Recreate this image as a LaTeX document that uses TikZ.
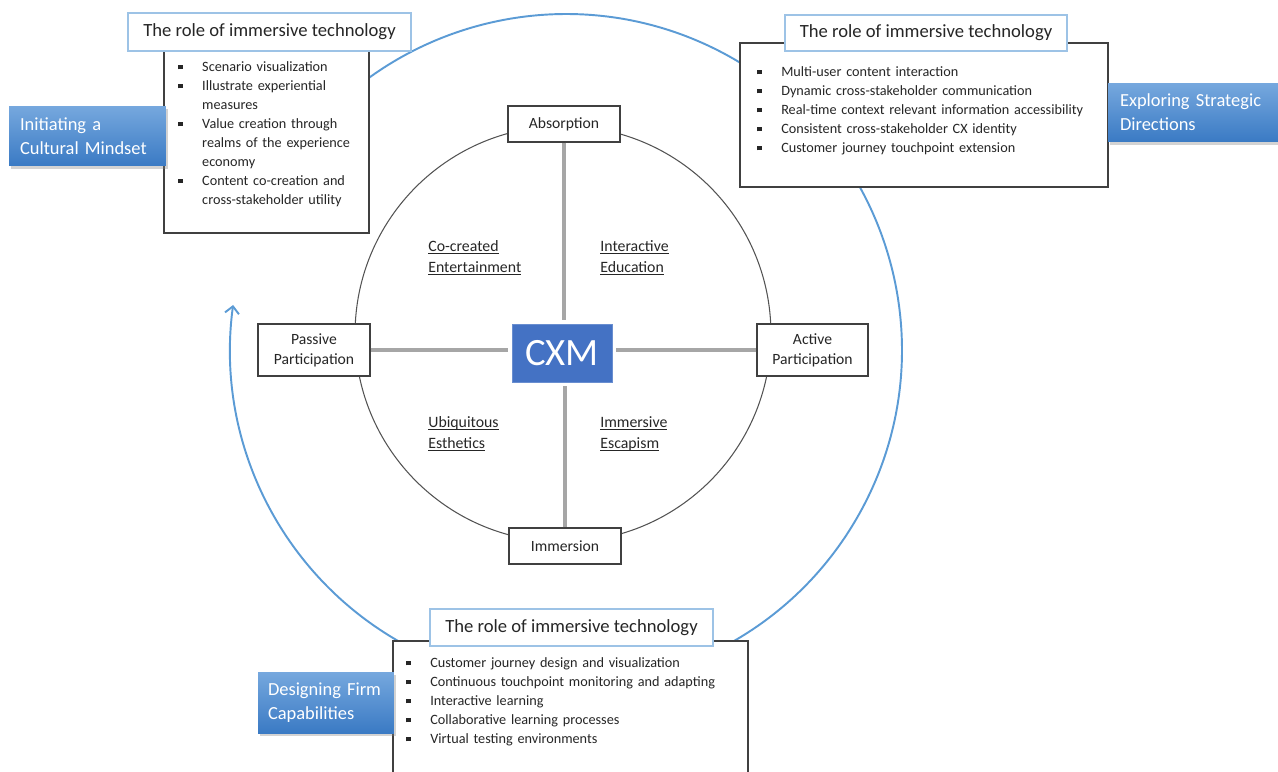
\documentclass[tikz,border=0pt]{standalone}
\usepackage{fontspec}
\setmainfont{Carlito}
\usetikzlibrary{shapes, positioning, shadows, arrows.meta}

\definecolor{cyclebl}{RGB}{91,155,213}
\definecolor{headbl}{RGB}{157,195,230}
\definecolor{cxmbl}{RGB}{68,114,196}
\definecolor{phasetop}{RGB}{118,168,222}
\definecolor{phasebot}{RGB}{58,122,196}
\definecolor{axisgray}{RGB}{166,166,166}
\definecolor{boxgray}{RGB}{64,64,64}
\definecolor{inkgray}{RGB}{38,38,38}

\newsavebox{\ulbox}
\newcommand{\realmline}[1]{\sbox{\ulbox}{#1}\rlap{\rule[-1.8pt]{\wd\ulbox}{0.5pt}}\usebox{\ulbox}}
\newcommand{\bitem}[1]{\noindent\hangindent=13.6pt\hangafter=1\makebox[13.6pt][l]{\rule[1.2pt]{2.4pt}{2.4pt}}#1\par}

\tikzset{
    cycle/.style={draw=cyclebl, line width=1.1pt, -{Straight Barb[length=4pt, width=8pt]}},
    rim/.style={draw=boxgray!90, line width=0.6pt},
    realm/.style={draw=boxgray, line width=0.8pt, fill=white, align=center, inner sep=0pt,
        text=inkgray, font=\fontsize{8.9}{11.3}\selectfont},
    axis/.style={draw=axisgray, line width=1.8pt},
    cxmbox/.style={fill=cxmbl, draw=cxmbl!80!white, line width=0.5pt, text=white, inner sep=0pt,
        minimum width=2cm, minimum height=1.16cm, font=\fontsize{22}{26}\selectfont},
    quad/.style={anchor=base west, align=left, inner sep=0pt, text=inkgray,
        font=\fontsize{9}{11.9}\selectfont},
    rolehead/.style={draw=headbl, line width=0.9pt, fill=white, inner sep=0pt, text=inkgray,
        font=\fontsize{10.6}{13}\selectfont},
    rolebody/.style={draw=boxgray, line width=0.8pt, fill=white, inner sep=0pt},
    items/.style={anchor=base west, inner sep=0pt, align=left, text=inkgray,
        font=\fontsize{8.1}{10.8}\selectfont},
    phase/.style={top color=phasetop, bottom color=phasebot, draw=none, text=white, align=left,
        inner ysep=0pt, font=\fontsize{10.5}{13.6}\selectfont,
        drop shadow={shadow xshift=1.2pt, shadow yshift=-1.5pt, opacity=0.35}}
}

\begin{document}
\begin{tikzpicture}[x=0.02cm, y=-0.02cm]
    \useasboundingbox (0,0) rectangle (1278,771);

    % Centres
    \coordinate (hub) at (566,350);
    \coordinate (core) at (563,334);

    % Outer cycle and inner circle
    \draw[cycle] (hub) ++(150:6.72cm) arc[start angle=150, end angle=-187.7, radius=6.72cm];
    \draw[rim] (core) circle[radius=4.16cm];

    % Realm boxes
    \node[realm, minimum width=2.24cm, minimum height=0.72cm] (absorption) at (564,124) {Absorption};
    \node[realm, minimum width=2.24cm, minimum height=0.72cm] (immersion) at (565,546) {Immersion};
    \node[realm, minimum width=2.24cm, minimum height=1.04cm] (passive) at (314,350) {Passive\\Participation};
    \node[realm, minimum width=2.22cm, minimum height=1.04cm] (active) at (812.5,350) {Active\\Participation};
    \node[cxmbox] (cxm) at (562,353) {CXM};

    % Axes
    \draw[axis, shorten >=2pt] (absorption.south) -- (absorption.south |- cxm.north);
    \draw[axis, shorten >=2pt] (immersion.north) -- (immersion.north |- cxm.south);
    \draw[axis, shorten >=2pt] (passive.east) -- (passive.east -| cxm.west);
    \draw[axis, shorten >=2pt] (active.west) -- (active.west -| cxm.east);

    % Quadrants
    \node[quad] (cocreated) at (428,272) {\realmline{Co-created}\\\realmline{Entertainment}};
    \node[quad] (interactive) at (600,272) {\realmline{Interactive}\\\realmline{Education}};
    \node[quad] (ubiquitous) at (428,448) {\realmline{Ubiquitous}\\\realmline{Esthetics}};
    \node[quad] (escapism) at (600,448) {\realmline{Immersive}\\\realmline{Escapism}};

    % Role boxes
    \node[rolebody, minimum width=4.1cm, minimum height=3.76cm] (tlbody) at (266.5,139) {};
    \node[rolehead, minimum width=5.66cm, minimum height=0.76cm] (tlhead) at (269.5,32) {The role of immersive technology};
    \node[items, text width=3.9cm] (tllist) at (178,71.5) {%
        \bitem{Scenario visualization}%
        \bitem{Illustrate experiential\newline measures}%
        \bitem{Value creation through\newline realms of the experience\newline economy}%
        \bitem{Content co-creation and\newline cross-stakeholder utility}};

    \node[rolebody, minimum width=7.36cm, minimum height=2.88cm] (trbody) at (924,115) {};
    \node[rolehead, minimum width=5.64cm, minimum height=0.72cm] (trhead) at (926,33) {The role of immersive technology};
    \node[items, text width=7cm] (trlist) at (757,76.5) {%
        \bitem{Multi-user content interaction}%
        \bitem{Dynamic cross-stakeholder communication}%
        \bitem{Real-time context relevant information accessibility}%
        \bitem{Consistent cross-stakeholder CX identity}%
        \bitem{Customer journey touchpoint extension}};

    \node[rolebody, minimum width=7.1cm, minimum height=2.68cm] (bbody) at (570.5,708) {};
    \node[rolehead, minimum width=5.66cm, minimum height=0.74cm] (bhead) at (571.5,627.5) {The role of immersive technology};
    \node[items, text width=6.8cm] (blist) at (406,667.5) {%
        \bitem{Customer journey design and visualization}%
        \bitem{Continuous touchpoint monitoring and adapting}%
        \bitem{Interactive learning}%
        \bitem{Collaborative learning processes}%
        \bitem{Virtual testing environments}};

    % Phases
    \node[phase, text width=2.7cm, inner xsep=0.22cm, minimum height=1.2cm] (initiating) at (87.5,136) {Initiating a\\Cultural Mindset};
    \node[phase, text width=2.96cm, inner xsep=0.24cm, minimum height=1.18cm] (exploring) at (1194,112.5) {Exploring Strategic\\Directions};
    \node[phase, text width=2.32cm, inner xsep=0.2cm, minimum height=1.22cm] (designing) at (326,702.5) {Designing Firm\\Capabilities};
\end{tikzpicture}
\end{document}
